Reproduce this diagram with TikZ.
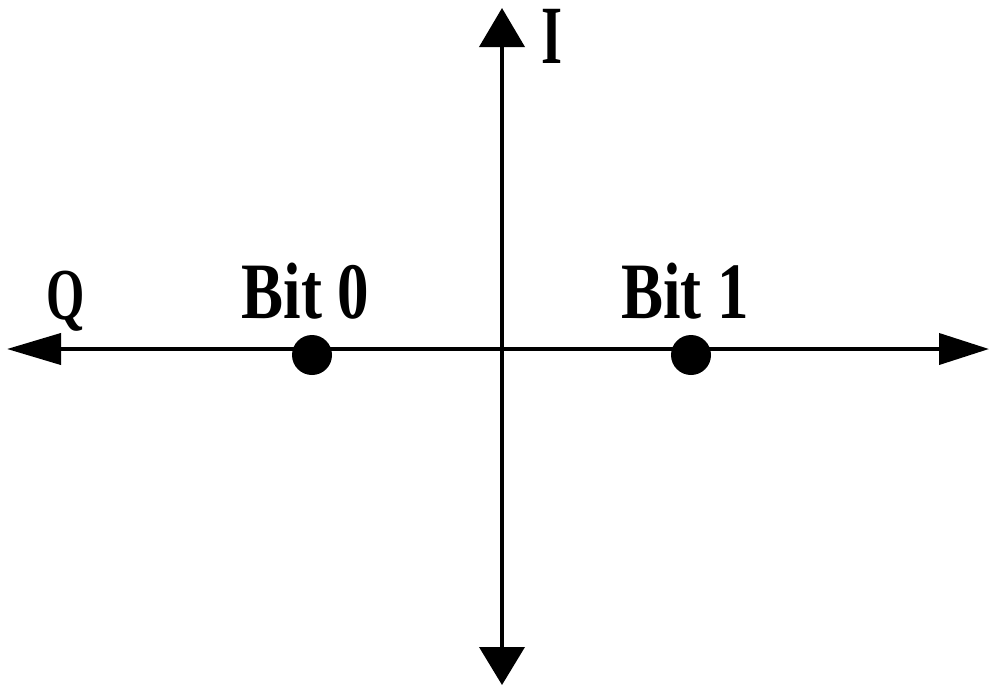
\documentclass[tikz,border=0pt]{standalone}
\usepackage{fontspec}
\setmainfont{Liberation Serif}
\usetikzlibrary{arrows.meta}
\begin{document}
\begin{tikzpicture}[x=1pt,y=-1pt,
  haxis/.style={line width=4pt,{Triangle[length=54pt,width=31pt]}-{Triangle[length=50pt,width=31pt]}},
  vaxis/.style={line width=4pt,{Triangle[length=39pt,width=45pt]}-{Triangle[length=38pt,width=45pt]}},
  bitdot/.style={circle,fill=black,inner sep=0pt,minimum size=40pt},
  lbl/.style={font=\bfseries\fontsize{63}{63}\selectfont,inner sep=0pt,anchor=base,yscale=1.27,transform shape}
]
\useasboundingbox (0,0) rectangle (989,686);
\coordinate (qend) at (7,349);
\coordinate (iend) at (989,349);
\coordinate (top) at (502,8);
\coordinate (bot) at (502,685);
\draw[haxis] (qend) -- (iend);
\draw[vaxis] (top) -- (bot);
\node[bitdot] (b0) at (312,355) {};
\node[bitdot] (b1) at (691,355) {};
\node[lbl] (l0) at (305.5,318) {Bit 0};
\node[lbl] (l1) at (685,318) {Bit 1};
\node[font=\bfseries\fontsize{60}{60}\selectfont,inner sep=0pt,anchor=base,xscale=0.82,yscale=1.22,transform shape] (q) at (66,319) {Q};
\node[font=\bfseries\fontsize{60}{60}\selectfont,inner sep=0pt,anchor=base,xscale=0.9,yscale=1.38,transform shape] (i) at (552,63) {I};
\end{tikzpicture}
\end{document}
